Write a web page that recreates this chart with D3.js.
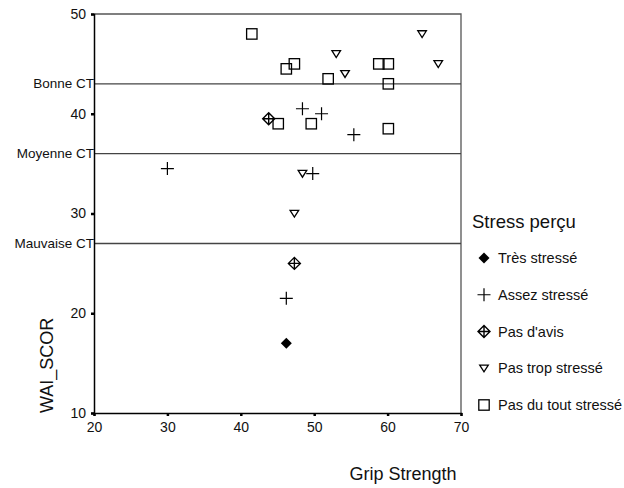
<!DOCTYPE html>
<html>
<head>
<meta charset="utf-8">
<script src="https://cdn.jsdelivr.net/npm/d3@7"></script>
<style>
  html, body { margin: 0; padding: 0; background: #fff; }
  text { font-family: "Liberation Sans", Arial, sans-serif; fill: #111; }
</style>
</head>
<body>
<svg id="chart" width="624" height="488"></svg>
<script>
// Grip strength (x) vs. WAI score (y), one array per perceived-stress group
const tresStresse     = [[46.2, 17.0]];
const assezStresse    = [[30.0, 34.5], [46.2, 21.5], [48.4, 40.5], [49.8, 34.0], [51.0, 40.0], [55.4, 37.9]];
const pasDAvis        = [[43.8, 39.5], [47.3, 25.0]];
const pasTropStresse  = [[47.3, 30.0], [48.4, 34.0], [53.0, 46.0], [54.2, 44.0], [64.7, 48.0], [66.9, 45.0]];
const pasDuToutStresse = [[41.5, 48.0], [46.2, 44.5], [47.3, 45.0], [45.1, 39.0], [49.6, 39.0],
                          [51.9, 43.5], [58.8, 45.0], [60.1, 45.0], [60.1, 43.0], [60.1, 38.5]];

// Work-ability category thresholds
const seuilLabels = ["Bonne CT", "Moyenne CT", "Mauvaise CT"];
const seuilValues = [43, 36, 27];

const xTicks = [20, 30, 40, 50, 60, 70];
const yTicks = [10, 20, 30, 40, 50];

const groupNames = ["Très stressé", "Assez stressé", "Pas d'avis", "Pas trop stressé", "Pas du tout stressé"];
const groupData  = [tresStresse, assezStresse, pasDAvis, pasTropStresse, pasDuToutStresse];
const groupShape = ["diamond", "plus", "crossDiamond", "triDown", "square"];

const svg = d3.select("#chart");
const L = 94, R = 461, T = 14, B = 413;

const x = d3.scaleLinear().domain([20, 70]).range([L, R]);
const y = d3.scaleLinear().domain([10, 50]).range([B, T]);

// Frame (top and right)
svg.append("path")
  .attr("d", `M${L},${T}H${R}V${B}`)
  .attr("fill", "none").attr("stroke", "#555").attr("stroke-width", 1.3);

// Threshold lines and their labels
const seuils = svg.append("g");
seuilValues.forEach((v, i) => {
  seuils.append("line")
    .attr("x1", L).attr("x2", R)
    .attr("y1", y(v)).attr("y2", y(v))
    .attr("stroke", "#444").attr("stroke-width", 1.4);
  seuils.append("text")
    .attr("x", L).attr("y", y(v))
    .attr("text-anchor", "end").attr("dominant-baseline", "central")
    .attr("font-size", 13.5)
    .text(seuilLabels[i]);
});

// Axes
const xAxis = d3.axisBottom(x).tickValues(xTicks).tickSize(3).tickPadding(6);
const yAxis = d3.axisLeft(y).tickValues(yTicks).tickSize(3).tickPadding(5);

const gx = svg.append("g").attr("transform", `translate(0,${B})`).call(xAxis);
const gy = svg.append("g").attr("transform", `translate(${L},0)`).call(yAxis);
[gx, gy].forEach(g => {
  g.select(".domain").attr("stroke", "#000").attr("stroke-width", 1.5);
  g.selectAll(".tick line").attr("stroke", "#000").attr("stroke-width", 2.5);
  g.selectAll(".tick text").attr("font-size", 14).attr("fill", "#111")
    .attr("font-family", "Liberation Sans, Arial, sans-serif");
});

// Axis titles
svg.append("text")
  .attr("transform", "translate(53,413) rotate(-90)")
  .attr("text-anchor", "start")
  .attr("font-size", 18)
  .text("WAI_SCOR");
svg.append("text")
  .attr("x", 403).attr("y", 480)
  .attr("text-anchor", "middle")
  .attr("font-size", 18)
  .text("Grip Strength");

// Marker drawing
function drawMarker(g, shape) {
  if (shape === "diamond") {
    g.append("path").attr("d", "M0,-5.5L5.5,0L0,5.5L-5.5,0Z").attr("fill", "#000");
  } else if (shape === "plus") {
    g.append("path").attr("d", "M-6.5,0H6.5M0,-6.5V6.5")
      .attr("stroke", "#000").attr("stroke-width", 1.2).attr("fill", "none");
  } else if (shape === "crossDiamond") {
    g.append("path").attr("d", "M0,-6L6,0L0,6L-6,0ZM-6,0H6M0,-6V6")
      .attr("stroke", "#000").attr("stroke-width", 1.4).attr("fill", "none");
  } else if (shape === "triDown") {
    g.append("path").attr("d", "M-4.3,-3.2H4.3L0,3.6Z")
      .attr("stroke", "#000").attr("stroke-width", 1.3).attr("fill", "#fff").attr("stroke-linejoin", "miter");
  } else if (shape === "square") {
    g.append("rect").attr("x", -5.2).attr("y", -5.2).attr("width", 10.4).attr("height", 10.4)
      .attr("stroke", "#000").attr("stroke-width", 1.3).attr("fill", "none");
  }
}

// Points
groupData.forEach((data, gi) => {
  svg.append("g").selectAll("g")
    .data(data)
    .join("g")
    .attr("transform", d => `translate(${x(d[0])},${y(d[1])})`)
    .each(function () { drawMarker(d3.select(this), groupShape[gi]); });
});

// Legend
const legend = svg.append("g");
legend.append("text")
  .attr("x", 472).attr("y", 228)
  .attr("font-size", 18.5)
  .text("Stress perçu");
const legendY = d3.scalePoint().domain(groupNames).range([258, 405]);
groupNames.forEach((name, i) => {
  const item = legend.append("g").attr("transform", `translate(484,${legendY(name)})`);
  drawMarker(item, groupShape[i]);
  item.append("text")
    .attr("x", 14).attr("y", 0)
    .attr("dominant-baseline", "central")
    .attr("font-size", 14.5)
    .text(name);
});
</script>
</body>
</html>
